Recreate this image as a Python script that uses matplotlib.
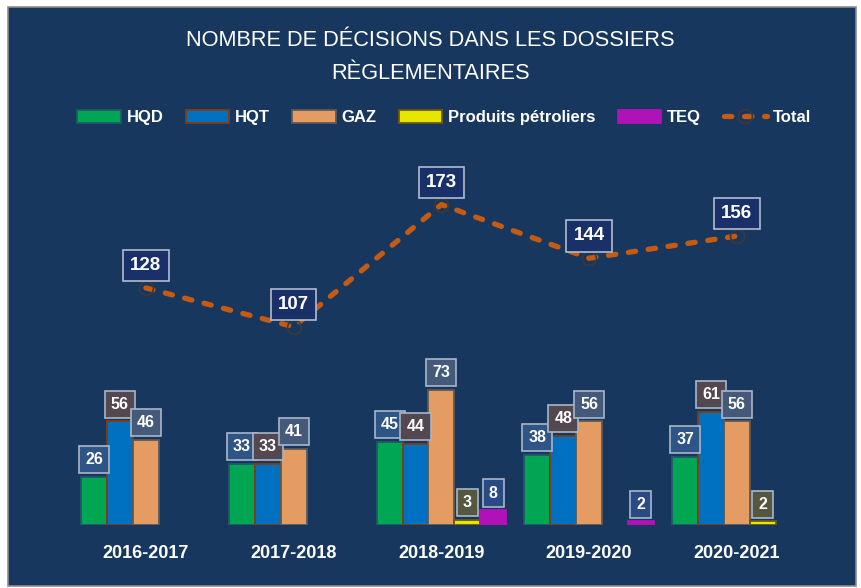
import numpy as np
import matplotlib.pyplot as plt
from matplotlib.patches import Rectangle

# data
years = ['2016-2017', '2017-2018', '2018-2019', '2019-2020', '2020-2021']
hqd = [26, 33, 45, 38, 37]
hqt = [56, 33, 44, 48, 61]
gaz = [46, 41, 73, 56, 56]
petrol = [0, 0, 3, 0, 2]
teq = [0, 0, 8, 2, 0]
total = [128, 107, 173, 144, 156]

names = ['HQD', 'HQT', 'GAZ', 'Produits pétroliers', 'TEQ']
colors = ['#00A651', '#0070C0', '#E59C62', '#E6E600', '#B012B8']
edges = ['#1F5A6A', '#843C0C', '#5E5A55', '#6B5A10', '#B012B8']
lab_fill = ['#2E5585', '#544850', '#45597A', '#55573F', '#2A4A85']

navy = '#17375E'
plt.rcParams['font.family'] = ['Liberation Sans', 'DejaVu Sans']

fig = plt.figure(figsize=(8.61, 5.88), dpi=100, facecolor='white')
fig.patches.append(Rectangle((0.009, 0.003), 0.985, 0.985, transform=fig.transFigure,
                             facecolor=navy, edgecolor='#8C8C8C', lw=1.2, zorder=-5))
ax = fig.add_axes([0.0836, 0.107, 0.858, 0.646])
ax.set_facecolor('none')

x = np.arange(len(years))
w = 0.175
series = [hqd, hqt, gaz, petrol, teq]
for i, vals in enumerate(series):
    pos = x + (i - 2) * w
    keep = [j for j, v in enumerate(vals) if v > 0]
    ax.bar(pos[keep], [vals[j] for j in keep], w, color=colors[i], edgecolor=edges[i],
           linewidth=1.3, label=names[i], zorder=2)
    for j in keep:
        ax.annotate(str(vals[j]), (pos[j], vals[j]), xytext=(0, 7), textcoords='offset points',
                    ha='center', va='bottom', color='white', fontsize=11.5, fontweight='bold',
                    bbox=dict(boxstyle='square,pad=0.38', fc=lab_fill[i], ec='#A9B6C9', lw=1.2),
                    zorder=4)

ax.plot(x, total, color='#C55A11', lw=3.8, ls=(0, (1.4, 2.4)), dash_capstyle='round',
        marker='o', ms=10, mfc='none', mec='#3A3A3A', mew=1.2, label='Total', zorder=3)
for j, v in enumerate(total):
    ax.annotate(str(v), (x[j], v), xytext=(0, 10), textcoords='offset points',
                ha='center', va='bottom', color='white', fontsize=13.5, fontweight='bold',
                bbox=dict(boxstyle='square,pad=0.38', fc='#1A3068', ec='#B0BCD0', lw=1.2),
                zorder=4)

ax.set_xlim(-0.5, 4.5)
ax.set_ylim(0, 205)
ax.set_yticks([])
ax.set_xticks(x)
ax.set_xticklabels(years, color='white', fontsize=13, fontweight='bold')
ax.tick_params(axis='x', length=0, pad=14)
for s in ax.spines.values():
    s.set_visible(False)

fig.text(0.5, 0.903, 'NOMBRE DE DÉCISIONS DANS LES DOSSIERS\nRÈGLEMENTAIRES', ha='center',
         va='center', color='white', fontsize=15.7, linespacing=1.8)

h, l = ax.get_legend_handles_labels()
h = h[1:] + h[:1]
l = l[1:] + l[:1]
leg = fig.legend(h, l, loc='center', bbox_to_anchor=(0.516, 0.8), ncol=6, frameon=False,
                 handlelength=2.6, handleheight=0.8, handletextpad=0.35, columnspacing=1.35,
                 prop={'weight': 'bold', 'size': 12})
for t in leg.get_texts():
    t.set_color('white')

fig.savefig('out.png', dpi=100, facecolor='white')
